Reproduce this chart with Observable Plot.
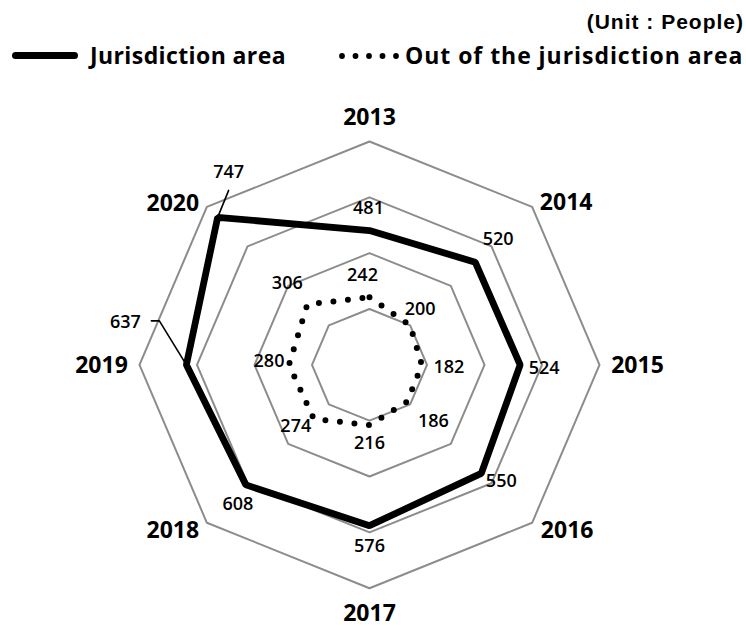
<!DOCTYPE html>
<html>
<head>
<meta charset="utf-8">
<script src="https://cdn.jsdelivr.net/npm/d3@7"></script>
<script src="https://cdn.jsdelivr.net/npm/@observablehq/plot@0.6"></script>
<style>
  body { margin: 0; background: #fff; }
  #wrap { position: relative; width: 746px; height: 626px; overflow: hidden; font-family: "Open Sans", sans-serif; color: #000; }
  #legend { position: absolute; left: 0; top: 0; width: 746px; height: 80px; }
  .lg { position: absolute; font-weight: 700; white-space: nowrap; line-height: 1; }
  #chart { position: absolute; left: 0; top: 80px; }
</style>
</head>
<body>
<div id="wrap">
  <div id="legend">
    <div class="lg" id="unit" style="right:2px; top:11px; font-size:21px; letter-spacing:1px; font-family:'Liberation Sans', Arial, sans-serif;">(Unit : People)</div>
    <div style="position:absolute; left:12px; top:52px; width:66px; height:7px; border-radius:4px; background:#000;"></div>
    <div class="lg" id="lgA" style="left:90px; top:44px; font-size:23px; letter-spacing:0.4px;">Jurisdiction area</div>
    <svg id="dots" style="position:absolute; left:330px; top:46px;" width="80" height="20"></svg>
    <div class="lg" id="lgB" style="left:405px; top:44px; font-size:23px; letter-spacing:0.95px;">Out of the jurisdiction area</div>
  </div>
  <div id="chart"></div>
</div>
<script>
// ---- data ----
const years = ["2013", "2014", "2015", "2016", "2017", "2018", "2019", "2020"];
const jurisdiction = [481, 520, 524, 550, 576, 608, 637, 747];
const outside = [242, 200, 182, 186, 216, 274, 280, 306];
const gridLevels = [200, 400, 600, 800];
const maxValue = 800;

// ---- layout ----
const W = 746, H = 546;
const mL = 139, mR = 147, mT = 61, mB = 38.3;
const kx = (2 * maxValue) / (W - mL - mR);   // data units per px
const ky = (2 * maxValue) / (H - mT - mB);

// label offsets in px from the data point (dx right, dy down)
const jurOffset = [[-1,-22],[23,-23],[24,3],[20,8],[0,21],[-8,19],[-61,-43],[11,-45]];
const outOffset = [[-7,-22],[10,-16],[27,2],[26,20],[0,18],[-18,7],[-20,-4],[-20,-21]];
const yearOffset = [[0,-24],[34,-4],[38,1],[35,8],[0,25],[-34,8],[-38,1],[-34,-3]];

const ang = i => i * Math.PI / 4;
const px = (i, r) => r * Math.sin(ang(i));
const py = (i, r) => r * Math.cos(ang(i));
const shift = (x, y, [dx, dy]) => ({x: x + dx * kx, y: y - dy * ky});

const gridPts = gridLevels.flatMap(level =>
  years.map((yr, i) => ({level, x: px(i, level), y: py(i, level)})));

const jurPts = jurisdiction.map((v, i) => ({year: years[i], v, x: px(i, v), y: py(i, v)}));
const outPts = outside.map((v, i) => ({year: years[i], v, x: px(i, v), y: py(i, v)}));

const jurLabels = jurPts.map((d, i) => ({...shift(d.x, d.y, jurOffset[i]), text: String(d.v)}));
const outLabels = outPts.map((d, i) => ({...shift(d.x, d.y, outOffset[i]), text: String(d.v)}));
const yearLabels = years.map((yr, i) => ({...shift(px(i, maxValue), py(i, maxValue), yearOffset[i]), text: yr}));

// leader lines for 637 (2019) and 747 (2020)
const p19 = jurPts[6], p20 = jurPts[7];
const leaders = [
  {id: "a", ...p19}, {id: "a", ...shift(p19.x, p19.y, [-27, -44])}, {id: "a", ...shift(p19.x, p19.y, [-35, -44])},
  {id: "b", ...p20}, {id: "b", ...shift(p20.x, p20.y, [11, -27])}
];

const chart = Plot.plot({
  width: W, height: H,
  marginLeft: mL, marginRight: mR, marginTop: mT, marginBottom: mB,
  x: {domain: [-maxValue, maxValue], axis: null},
  y: {domain: [-maxValue, maxValue], axis: null},
  style: {fontFamily: "'Open Sans', sans-serif", background: "#fff", overflow: "visible"},
  marks: [
    Plot.line(gridPts, {x: "x", y: "y", z: "level", curve: "linear-closed", stroke: "#8c8c8c", strokeWidth: 2}),
    Plot.line(jurPts, {x: "x", y: "y", curve: "linear-closed", stroke: "#000", strokeWidth: 6.8, strokeLinejoin: "miter"}),
    Plot.line(outPts, {x: "x", y: "y", curve: "linear-closed", stroke: "#000", strokeWidth: 6, strokeLinecap: "round", strokeDasharray: "0 14.6"}),
    Plot.line(leaders, {x: "x", y: "y", z: "id", stroke: "#000", strokeWidth: 1.6}),
    Plot.text(jurLabels, {x: "x", y: "y", text: "text", fontSize: 18, fontWeight: 600, fill: "#000"}),
    Plot.text(outLabels, {x: "x", y: "y", text: "text", fontSize: 18, fontWeight: 600, fill: "#000"}),
    Plot.text(yearLabels, {x: "x", y: "y", text: "text", fontSize: 23, fontWeight: 700, fill: "#000"})
  ]
});
document.getElementById("chart").appendChild(chart);

// legend dots
const dots = d3.select("#dots");
d3.range(5).forEach(k => dots.append("circle").attr("cx", 12 + k * 13.5).attr("cy", 10).attr("r", 2.9).attr("fill", "#000"));
</script>
</body>
</html>
